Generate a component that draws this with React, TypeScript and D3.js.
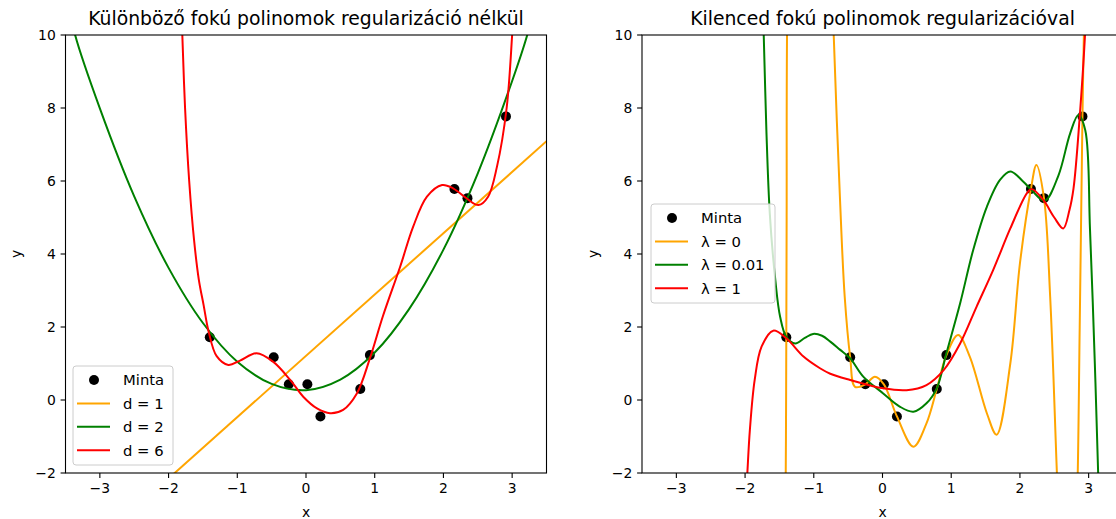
import React from "react";
import * as d3 from "d3";

type Pt = [number, number];

// sample points ("Minta")
const sampleX = [-1.4, -0.47, -0.25, 0.02, 0.21, 0.79, 0.93, 2.16, 2.35, 2.91];
const sampleY = [1.72, 1.17, 0.43, 0.43, -0.45, 0.3, 1.23, 5.78, 5.53, 7.77];

const xTicks = [-3, -2, -1, 0, 1, 2, 3];
const yTicks = [-2, 0, 2, 4, 6, 8, 10];

const titles = [
  "Különböző fokú polinomok regularizáció nélkül",
  "Kilenced fokú polinomok regularizációval",
];
const leftLabels = ["d = 1", "d = 2", "d = 6"];
const rightLabels = ["λ = 0", "λ = 0.01", "λ = 1"];
const sampleLabel = "Minta";
const colors = ["orange", "green", "red"];

// left panel curves
const degree1: Pt[] = [[-3.5, -4.67], [3.5, 7.09]];
const degree2: Pt[] = [
  [-3.45, 10.8], [-3.36, 10], [-3, 7.99], [-2.5, 5.58], [-2, 3.62], [-1.5, 2.11],
  [-1, 1.05], [-0.5, 0.44], [0, 0.27], [0.5, 0.56], [1, 1.3], [1.5, 2.49],
  [2, 4.12], [2.5, 6.21], [3, 8.74], [3.22, 10], [3.3, 10.6],
];
const degree6: Pt[] = [
  [-1.82, 11], [-1.8, 10], [-1.76, 8], [-1.7, 6.0], [-1.63, 4.4], [-1.56, 3.3],
  [-1.49, 2.6], [-1.42, 1.9], [-1.3, 1.2], [-1.13, 0.96], [-0.96, 1.08],
  [-0.72, 1.28], [-0.48, 1.05], [-0.23, 0.55], [-0.04, 0.09], [0.16, -0.23],
  [0.35, -0.36], [0.54, -0.27], [0.74, 0.18], [0.93, 1.14], [1.12, 2.3],
  [1.37, 3.65], [1.56, 4.75], [1.76, 5.57], [1.98, 5.89], [2.14, 5.8],
  [2.34, 5.52], [2.51, 5.34], [2.65, 5.57], [2.78, 6.4], [2.92, 8], [3.0, 10],
  [3.03, 11],
];

// right panel curves
const lambda0: Pt[] = [
  [-1.415, -4], [-1.405, -1], [-1.4, 1.72], [-1.395, 5], [-1.385, 11], [-1.2, 30],
  [-0.9, 30], [-0.74, 12], [-0.71, 10], [-0.62, 5.57], [-0.55, 2.83], [-0.47, 1.17],
  [-0.4, 0.36], [-0.25, 0.43], [-0.11, 0.64], [0.02, 0.43], [0.21, -0.45],
  [0.45, -1.28], [0.64, -0.64], [0.79, 0.3], [0.93, 1.23], [1.1, 1.78],
  [1.27, 1.19], [1.52, -0.37], [1.66, -0.95], [1.86, 1.0], [2.0, 3.74],
  [2.16, 5.78], [2.24, 6.44], [2.35, 5.53], [2.44, 2.83], [2.54, -2.1],
  [2.62, -6], [2.73, -8], [2.83, -3], [2.87, 2], [2.91, 7.77], [2.94, 11],
];
const lambda001: Pt[] = [
  [-1.75, 11], [-1.73, 10.1], [-1.69, 7.4], [-1.64, 5.1], [-1.56, 3.29],
  [-1.49, 2.28], [-1.4, 1.73], [-1.27, 1.55], [-1.13, 1.7], [-1.01, 1.81],
  [-0.88, 1.76], [-0.76, 1.6], [-0.62, 1.38], [-0.47, 1.14], [-0.28, 0.64],
  [0.01, 0.18], [0.25, -0.18], [0.45, -0.32], [0.64, -0.09], [0.79, 0.32],
  [0.93, 1.28], [1.13, 2.65], [1.32, 4.11], [1.52, 5.3], [1.71, 6.03],
  [1.86, 6.26], [2.05, 5.98], [2.17, 5.75], [2.36, 5.46], [2.56, 6.15],
  [2.73, 7.3], [2.85, 7.81], [2.95, 7.4], [3.02, 4.66], [3.09, 1.0],
  [3.14, -2.1], [3.17, -4],
];
const lambda1: Pt[] = [
  [-2.0, -3], [-1.97, -2.1], [-1.93, -0.82], [-1.86, 0.55], [-1.76, 1.46],
  [-1.59, 1.9], [-1.4, 1.69], [-1.15, 1.19], [-0.91, 0.87], [-0.76, 0.72],
  [-0.47, 0.55], [0.01, 0.32], [0.35, 0.27], [0.64, 0.41], [0.89, 0.82],
  [1.13, 1.55], [1.37, 2.56], [1.61, 3.56], [1.86, 4.7], [2.1, 5.66],
  [2.17, 5.78], [2.34, 5.48], [2.5, 5.0], [2.63, 4.7], [2.72, 5.2],
  [2.78, 5.8], [2.87, 7.76], [2.95, 10.1], [2.98, 11.5],
];

const font = "DejaVu Sans, sans-serif";

type PanelProps = {
  id: string;
  left: number;
  title: string;
  series: Pt[][];
  labels: string[];
  legendX: number;
  legendY: number;
  legendW: number;
};

function Panel({ id, left, title, series, labels, legendX, legendY, legendW }: PanelProps) {
  const x = d3.scaleLinear().domain([-3.5, 3.5]).range([left, left + 481]);
  const y = d3.scaleLinear().domain([-2, 10]).range([473, 35]);
  const line = d3
    .line<Pt>()
    .x(d => x(d[0]))
    .y(d => y(d[1]))
    .curve(d3.curveCatmullRom.alpha(0.5));
  const fmt = d3.format("d");
  const [x0, x1] = x.range();
  const [yb, yt] = y.range();
  const rowH = 23.4;

  return (
    <g fontFamily={font}>
      <defs>
        <clipPath id={id}>
          <rect x={x0} y={yt} width={x1 - x0} height={yb - yt} />
        </clipPath>
      </defs>
      <g clipPath={`url(#${id})`}>
        {sampleX.map((v, i) => (
          <circle key={i} cx={x(v)} cy={y(sampleY[i])} r={5} fill="black" />
        ))}
        {series.map((s, i) => (
          <path key={i} d={line(s) || ""} fill="none" stroke={colors[i]} strokeWidth={2} />
        ))}
      </g>
      <rect x={x0} y={yt} width={x1 - x0} height={yb - yt} fill="none" stroke="black" strokeWidth={1.1} />

      {xTicks.map(t => (
        <g key={t}>
          <line x1={x(t)} x2={x(t)} y1={yb} y2={yb + 4.9} stroke="black" strokeWidth={1.1} />
          <text x={x(t)} y={yb + 20} textAnchor="middle" fontSize={13.9}>
            {fmt(t)}
          </text>
        </g>
      ))}
      {yTicks.map(t => (
        <g key={t}>
          <line x1={x0 - 4.9} x2={x0} y1={y(t)} y2={y(t)} stroke="black" strokeWidth={1.1} />
          <text x={x0 - 9.7} y={y(t)} dy="0.36em" textAnchor="end" fontSize={13.9}>
            {fmt(t)}
          </text>
        </g>
      ))}

      <text x={(x0 + x1) / 2} y={25} textAnchor="middle" fontSize={18.8}>
        {title}
      </text>
      <text x={(x0 + x1) / 2} y={517} textAnchor="middle" fontSize={13.9}>
        x
      </text>
      <text
        transform={`translate(${x0 - 44.5},${(yt + yb) / 2}) rotate(-90)`}
        textAnchor="middle"
        fontSize={13.9}
      >
        y
      </text>

      <g transform={`translate(${legendX},${legendY})`}>
        <rect
          x={0}
          y={0}
          width={legendW}
          height={99}
          rx={3}
          fill="white"
          fillOpacity={0.8}
          stroke="#cccccc"
          strokeWidth={1}
        />
        <circle cx={21} cy={14} r={5} fill="black" />
        <text x={50} y={14} dy="0.36em" fontSize={14.8}>
          {sampleLabel}
        </text>
        {labels.map((lab, i) => (
          <g key={lab}>
            <line
              x1={4}
              x2={37}
              y1={14 + rowH * (i + 1)}
              y2={14 + rowH * (i + 1)}
              stroke={colors[i]}
              strokeWidth={2}
            />
            <text x={50} y={14 + rowH * (i + 1)} dy="0.36em" fontSize={14.8}>
              {lab}
            </text>
          </g>
        ))}
      </g>
    </g>
  );
}

export default function App() {
  return (
    <svg
      width={1116}
      height={519}
      style={{ position: "absolute", left: 0, top: 0, background: "white" }}
    >
      <Panel
        id="clip-left"
        left={65.5}
        title={titles[0]}
        series={[degree1, degree2, degree6]}
        labels={leftLabels}
        legendX={73}
        legendY={366}
        legendW={100}
      />
      <Panel
        id="clip-right"
        left={642}
        title={titles[1]}
        series={[lambda0, lambda001, lambda1]}
        labels={rightLabels}
        legendX={651}
        legendY={204}
        legendW={124}
      />
    </svg>
  );
}
